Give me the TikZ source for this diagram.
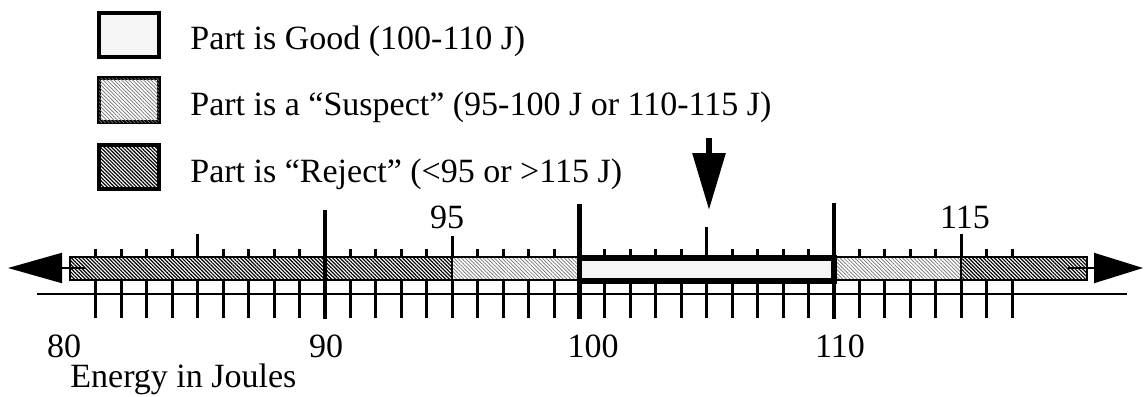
\documentclass[tikz,border=0pt]{standalone}
\usepackage{fontspec}
\setmainfont{Liberation Serif}
\usetikzlibrary{arrows.meta,patterns.meta}
\tikzset{
  lbl/.style={inner sep=0pt, font=\fontsize{17pt}{20pt}\selectfont},
  legbox/.style={draw, line width=2pt},
  goodfill/.style={fill=black!4},
  suspfill/.style={fill=white, postaction={pattern={Lines[angle=-45,distance=1.3pt,line width=0.35pt]}, pattern color=black!55}},
  rejfill/.style={fill=white, postaction={pattern={Lines[angle=-45,distance=1.3pt,line width=0.6pt]}, pattern color=black}},
  tk/.style={line width=1.5pt},
  bigtk/.style={line width=2.3pt},
}
\begin{document}
\begin{tikzpicture}[x=0.5pt,y=-0.5pt]
\useasboundingbox (0,0) rectangle (1144,396);
% legend
\node[legbox, goodfill, minimum width=30pt, minimum height=22pt, inner sep=0pt] (lgood) at (129,35) {};
\node[legbox, suspfill, minimum width=30pt, minimum height=22pt, inner sep=0pt] (lsusp) at (129,100) {};
\node[legbox, rejfill, minimum width=30pt, minimum height=22pt, inner sep=0pt] (lrej) at (129,166.5) {};
\node[lbl, anchor=base west] (tgood) at (190,49) {Part is Good (100-110 J)};
\node[lbl, anchor=base west] (tsusp) at (190,115) {Part is a “Suspect” (95-100 J or 110-115 J)};
\node[lbl, anchor=base west] (trej) at (190,182) {Part is “Reject” (<95 or >115 J)};
% bar segments
\def\xa{70}\def\xb{452}\def\xc{579.5}\def\xd{834}\def\xe{961}\def\xf{1087}
\path[rejfill] (\xa,257) rectangle (\xb,280);
\path[suspfill] (\xb,257) rectangle (\xc,280);
\path[goodfill] (\xc,257) rectangle (\xd,280);
\path[suspfill] (\xd,257) rectangle (\xe,280);
\path[rejfill] (\xe,257) rectangle (\xf,280);
\draw[line width=1pt] (\xa,257) rectangle (\xf,280);
\draw[line width=1pt] (\xb,257) -- (\xb,280) (\xe,257) -- (\xe,280);
% axis line
\coordinate (axl) at (37,294);
\coordinate (axr) at (1127,294);
\draw[line width=1.3pt] (axl) -- (axr);
% ticks
\foreach \v in {81,...,117} {
  \draw[tk] ({325+(\v-90)*25.45},280) -- ({325+(\v-90)*25.45},318);
}
\foreach \v in {81,82,83,84,86,87,88,89,91,92,93,94,96,97,98,99,101,102,103,104,106,107,108,109,111,112,113,114,116,117} {
  \draw[tk] ({325+(\v-90)*25.45},249) -- ({325+(\v-90)*25.45},257);
}
\foreach \v/\t in {85/234,95/236,105/227,115/234} {
  \draw[tk] ({325+(\v-90)*25.45},\t) -- ({325+(\v-90)*25.45},257);
}
\draw[bigtk] (325,210) -- (325,319);
% good region
\draw[line width=2.8pt] (\xc,258) rectangle (\xd,281);
\draw[bigtk] (\xc,204) -- (\xc,319);
\draw[bigtk] (\xd,203) -- (\xd,319);
% end arrows
\coordinate (las) at (85,268);
\coordinate (lat) at (8,268);
\coordinate (ras) at (1068,268);
\coordinate (rat) at (1143,268);
\draw[line width=1pt, -{Triangle[length=27pt,width=15pt]}] (las) -- (lat);
\draw[line width=1pt, -{Triangle[length=24.5pt,width=15pt]}] (ras) -- (rat);
% pointer arrow
\coordinate (ps) at (709,138);
\coordinate (pt) at (709,210);
\draw[line width=3pt, -{Triangle[length=28.5pt,width=16pt]}] (ps) -- (pt);
% numbers
\node[lbl, anchor=base] (n80) at (64,357) {80};
\node[lbl, anchor=base] (n90) at (326,357) {90};
\node[lbl, anchor=base] (n100) at (593,357) {100};
\node[lbl, anchor=base] (n110) at (840,357) {110};
\node[lbl, anchor=base] (n95) at (447,228) {95};
\node[lbl, anchor=base] (n115) at (965,228) {115};
\node[lbl, anchor=base west] (unit) at (70,387) {Energy in Joules};
\end{tikzpicture}
\end{document}
